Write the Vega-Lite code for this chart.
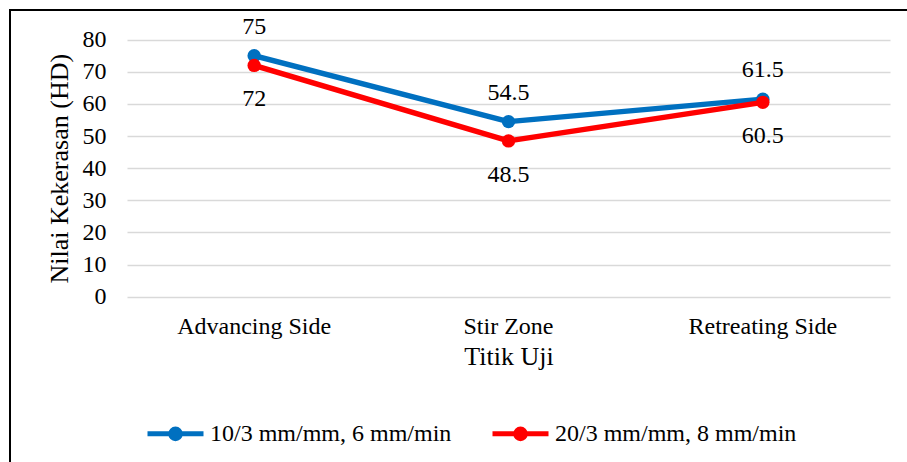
{
  "$schema": "https://vega.github.io/schema/vega-lite/v6.json",
  "autosize": {"type": "none"},
  "padding": {"left": 10, "top": 10, "right": -2, "bottom": -2},
  "width": 899,
  "height": 454,
  "background": "white",
  "config": {
    "font": "Liberation Serif",
    "view": {"stroke": "black", "strokeWidth": 2}
  },
  "data": {
    "values": [
      {"titik": "Advancing Side", "seri": "10/3 mm/mm, 6 mm/min", "nilai": 75},
      {"titik": "Stir Zone", "seri": "10/3 mm/mm, 6 mm/min", "nilai": 54.5},
      {"titik": "Retreating Side", "seri": "10/3 mm/mm, 6 mm/min", "nilai": 61.5},
      {"titik": "Advancing Side", "seri": "20/3 mm/mm, 8 mm/min", "nilai": 72},
      {"titik": "Stir Zone", "seri": "20/3 mm/mm, 8 mm/min", "nilai": 48.5},
      {"titik": "Retreating Side", "seri": "20/3 mm/mm, 8 mm/min", "nilai": 60.5}
    ]
  },
  "encoding": {
    "x": {
      "field": "titik",
      "type": "nominal",
      "sort": ["Advancing Side", "Stir Zone", "Retreating Side"],
      "bandPosition": 0.5,
      "scale": {"type": "band", "range": [117, 880], "paddingInner": 0, "paddingOuter": 0},
      "axis": {
        "orient": "bottom",
        "offset": -167.3,
        "title": "Titik Uji",
        "titleFontSize": 26,
        "titleFontWeight": "normal",
        "titleColor": "black",
        "titlePadding": 5,
        "labelFontSize": 24,
        "labelColor": "black",
        "labelAngle": 0,
        "labelPadding": 18,
        "ticks": false,
        "domain": false,
        "grid": false
      }
    },
    "y": {
      "field": "nilai",
      "type": "quantitative",
      "scale": {"domain": [0, 80], "range": [286.7, 29.7], "nice": false},
      "axis": {
        "orient": "left",
        "offset": -117,
        "values": [0, 10, 20, 30, 40, 50, 60, 70, 80],
        "title": "Nilai Kekerasan (HD)",
        "titleFontSize": 26,
        "titleFontWeight": "normal",
        "titleColor": "black",
        "titlePadding": 10,
        "labelFontSize": 24,
        "labelColor": "black",
        "labelPadding": 21,
        "ticks": false,
        "tickSize": 0,
        "domain": false,
        "grid": true,
        "gridColor": "#d9d9d9",
        "gridWidth": 1.5
      }
    }
  },
  "layer": [
    {
      "mark": {"type": "line", "strokeWidth": 5.5, "strokeCap": "round", "strokeJoin": "round", "point": {"filled": true, "size": 180, "opacity": 1}},
      "encoding": {
        "color": {
          "field": "seri",
          "type": "nominal",
          "scale": {"domain": ["10/3 mm/mm, 6 mm/min", "20/3 mm/mm, 8 mm/min"], "range": ["#0070C0", "#FF0000"]},
          "legend": {
            "orient": "none",
            "legendX": 135,
            "legendY": 393,
            "direction": "horizontal",
            "title": null,
            "padding": 0,
            "labelFontSize": 24,
            "labelColor": "black",
            "labelLimit": 0,
            "labelOffset": 4,
            "columnPadding": 30,
            "symbolType": "M-1,0L1,0M0.17,0A0.17,0.17,0,1,1,-0.17,0A0.17,0.17,0,1,1,0.17,0Z",
            "symbolSize": 3136,
            "symbolStrokeWidth": 5
          }
        }
      }
    },
    {
      "transform": [{"filter": "datum.seri === '10/3 mm/mm, 6 mm/min'"}],
      "mark": {"type": "text", "fontSize": 24, "color": "black", "baseline": "middle", "dy": -29},
      "encoding": {"text": {"field": "nilai", "type": "quantitative"}}
    },
    {
      "transform": [{"filter": "datum.seri === '20/3 mm/mm, 8 mm/min'"}],
      "mark": {"type": "text", "fontSize": 24, "color": "black", "baseline": "middle", "dy": 34},
      "encoding": {"text": {"field": "nilai", "type": "quantitative"}}
    }
  ]
}
